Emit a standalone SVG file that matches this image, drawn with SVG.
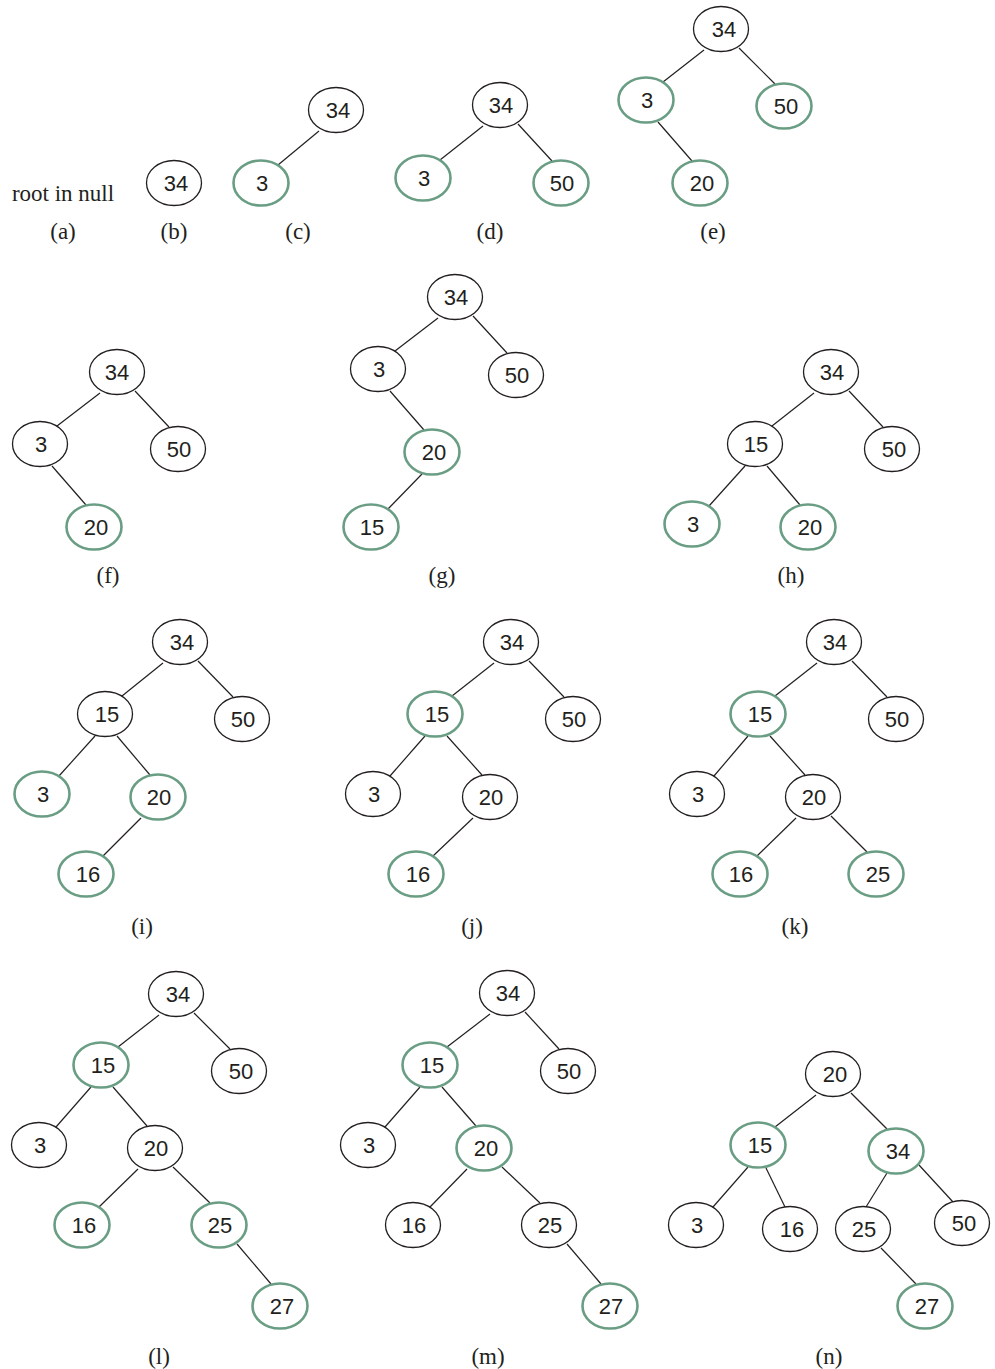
<svg xmlns="http://www.w3.org/2000/svg" width="995" height="1369" viewBox="0 0 995 1369">
<style>
.n ellipse{fill:#fff;stroke:#231f20;stroke-width:1.3}
.n.g ellipse{stroke:#6a9e84;stroke-width:2.6}
.n text{font-family:"Liberation Sans",Arial,sans-serif;font-size:22px;fill:#231f20;text-anchor:middle}
#edges line{stroke:#231f20;stroke-width:1.2}
.lb{font-family:"Liberation Serif","Times New Roman",serif;font-size:23px;fill:#231f20;text-anchor:middle}
</style>
<rect width="995" height="1369" fill="#fff"/>
<g id="edges">
<line x1="319" y1="131" x2="278" y2="165"/>
<line x1="483" y1="126" x2="440" y2="160"/><line x1="518" y1="124" x2="552" y2="161"/>
<line x1="704" y1="50" x2="663" y2="82"/><line x1="739" y1="48" x2="775" y2="84"/><line x1="658" y1="122" x2="692" y2="161"/>
<line x1="100" y1="393" x2="57" y2="426"/><line x1="135" y1="391" x2="169" y2="427"/><line x1="52" y1="466" x2="86" y2="505"/>
<line x1="438" y1="318" x2="395" y2="351"/><line x1="473" y1="316" x2="507" y2="353"/><line x1="390" y1="391" x2="424" y2="430"/><line x1="422" y1="474" x2="388" y2="509"/>
<line x1="814" y1="393" x2="772" y2="426"/><line x1="849" y1="391" x2="883" y2="427"/><line x1="745" y1="466" x2="709" y2="506"/><line x1="767" y1="466" x2="800" y2="505"/>
<line x1="163" y1="663" x2="122" y2="696"/><line x1="198" y1="661" x2="233" y2="697"/><line x1="95" y1="736" x2="59" y2="776"/><line x1="117" y1="736" x2="150" y2="775"/><line x1="141" y1="818" x2="103" y2="856"/>
<line x1="494" y1="663" x2="452" y2="696"/><line x1="529" y1="661" x2="564" y2="697"/><line x1="425" y1="736" x2="390" y2="776"/><line x1="447" y1="736" x2="482" y2="775"/><line x1="473" y1="818" x2="433" y2="856"/>
<line x1="817" y1="663" x2="775" y2="696"/><line x1="852" y1="661" x2="887" y2="697"/><line x1="748" y1="736" x2="714" y2="776"/><line x1="770" y1="736" x2="805" y2="775"/><line x1="796" y1="818" x2="757" y2="856"/><line x1="831" y1="816" x2="867" y2="852"/>
<line x1="159" y1="1015" x2="118" y2="1047"/><line x1="194" y1="1013" x2="230" y2="1049"/><line x1="91" y1="1087" x2="56" y2="1127"/><line x1="113" y1="1087" x2="147" y2="1126"/><line x1="138" y1="1169" x2="99" y2="1207"/><line x1="173" y1="1167" x2="210" y2="1203"/><line x1="237" y1="1244" x2="271" y2="1284"/>
<line x1="490" y1="1014" x2="447" y2="1047"/><line x1="525" y1="1012" x2="559" y2="1049"/><line x1="420" y1="1087" x2="385" y2="1127"/><line x1="442" y1="1087" x2="476" y2="1126"/><line x1="467" y1="1169" x2="430" y2="1207"/><line x1="502" y1="1167" x2="540" y2="1203"/><line x1="567" y1="1244" x2="601" y2="1284"/>
<line x1="816" y1="1095" x2="775" y2="1127"/><line x1="851" y1="1093" x2="887" y2="1129"/><line x1="748" y1="1167" x2="713" y2="1207"/><line x1="766" y1="1168" x2="785" y2="1207"/><line x1="887" y1="1173" x2="866" y2="1207"/><line x1="919" y1="1165" x2="953" y2="1202"/><line x1="881" y1="1248" x2="916" y2="1284"/>
</g>
<g id="labels">
<text class="lb" x="63" y="201">root in null</text>
<text class="lb" x="63" y="239">(a)</text>
<text class="lb" x="174" y="239">(b)</text>
<text class="lb" x="298" y="239">(c)</text>
<text class="lb" x="490" y="239">(d)</text>
<text class="lb" x="713" y="239">(e)</text>
<text class="lb" x="108" y="583">(f)</text>
<text class="lb" x="442" y="583">(g)</text>
<text class="lb" x="791" y="583">(h)</text>
<text class="lb" x="142" y="934">(i)</text>
<text class="lb" x="472" y="934">(j)</text>
<text class="lb" x="795" y="934">(k)</text>
<text class="lb" x="159" y="1364">(l)</text>
<text class="lb" x="488" y="1364">(m)</text>
<text class="lb" x="829" y="1364">(n)</text>
</g>
<g id="b34" class="n"><ellipse cx="174" cy="183" rx="27.5" ry="22.5"/><text x="176" y="191">34</text></g>
<g id="c34" class="n"><ellipse cx="336" cy="110" rx="27.5" ry="22.5"/><text x="338" y="118">34</text></g>
<g id="c3" class="n g"><ellipse cx="261" cy="183" rx="27.5" ry="22.5"/><text x="262" y="191">3</text></g>
<g id="d34" class="n"><ellipse cx="500" cy="105" rx="27.5" ry="22.5"/><text x="501" y="113">34</text></g>
<g id="d3" class="n g"><ellipse cx="423" cy="178" rx="27.5" ry="22.5"/><text x="424" y="186">3</text></g>
<g id="d50" class="n g"><ellipse cx="561" cy="183" rx="27.5" ry="22.5"/><text x="562" y="191">50</text></g>
<g id="e34" class="n"><ellipse cx="721" cy="29" rx="27.5" ry="22.5"/><text x="724" y="37">34</text></g>
<g id="e3" class="n g"><ellipse cx="646" cy="100" rx="27.5" ry="22.5"/><text x="647" y="108">3</text></g>
<g id="e50" class="n g"><ellipse cx="784" cy="106" rx="27.5" ry="22.5"/><text x="786" y="114">50</text></g>
<g id="e20" class="n g"><ellipse cx="700" cy="183" rx="27.5" ry="22.5"/><text x="702" y="191">20</text></g>
<g id="f34" class="n"><ellipse cx="117" cy="372" rx="27.5" ry="22.5"/><text x="117" y="380">34</text></g>
<g id="f3" class="n"><ellipse cx="40" cy="444" rx="27.5" ry="22.5"/><text x="41" y="452">3</text></g>
<g id="f50" class="n"><ellipse cx="178" cy="449" rx="27.5" ry="22.5"/><text x="179" y="457">50</text></g>
<g id="f20" class="n g"><ellipse cx="94" cy="527" rx="27.5" ry="22.5"/><text x="96" y="535">20</text></g>
<g id="g34" class="n"><ellipse cx="455" cy="297" rx="27.5" ry="22.5"/><text x="456" y="305">34</text></g>
<g id="g3" class="n"><ellipse cx="378" cy="369" rx="27.5" ry="22.5"/><text x="379" y="377">3</text></g>
<g id="g50" class="n"><ellipse cx="516" cy="375" rx="27.5" ry="22.5"/><text x="517" y="383">50</text></g>
<g id="g20" class="n g"><ellipse cx="432" cy="452" rx="27.5" ry="22.5"/><text x="434" y="460">20</text></g>
<g id="g15" class="n g"><ellipse cx="371" cy="527" rx="27.5" ry="22.5"/><text x="372" y="535">15</text></g>
<g id="h34" class="n"><ellipse cx="831" cy="372" rx="27.5" ry="22.5"/><text x="832" y="380">34</text></g>
<g id="h15" class="n"><ellipse cx="755" cy="444" rx="27.5" ry="22.5"/><text x="756" y="452">15</text></g>
<g id="h50" class="n"><ellipse cx="892" cy="449" rx="27.5" ry="22.5"/><text x="894" y="457">50</text></g>
<g id="h3" class="n g"><ellipse cx="692" cy="524" rx="27.5" ry="22.5"/><text x="693" y="532">3</text></g>
<g id="h20" class="n g"><ellipse cx="808" cy="527" rx="27.5" ry="22.5"/><text x="810" y="535">20</text></g>
<g id="i34" class="n"><ellipse cx="180" cy="642" rx="27.5" ry="22.5"/><text x="182" y="650">34</text></g>
<g id="i15" class="n"><ellipse cx="105" cy="714" rx="27.5" ry="22.5"/><text x="107" y="722">15</text></g>
<g id="i50" class="n"><ellipse cx="242" cy="719" rx="27.5" ry="22.5"/><text x="243" y="727">50</text></g>
<g id="i3" class="n g"><ellipse cx="42" cy="794" rx="27.5" ry="22.5"/><text x="43" y="802">3</text></g>
<g id="i20" class="n g"><ellipse cx="158" cy="797" rx="27.5" ry="22.5"/><text x="159" y="805">20</text></g>
<g id="i16" class="n g"><ellipse cx="86" cy="874" rx="27.5" ry="22.5"/><text x="88" y="882">16</text></g>
<g id="j34" class="n"><ellipse cx="511" cy="642" rx="27.5" ry="22.5"/><text x="512" y="650">34</text></g>
<g id="j15" class="n g"><ellipse cx="435" cy="714" rx="27.5" ry="22.5"/><text x="437" y="722">15</text></g>
<g id="j50" class="n"><ellipse cx="573" cy="719" rx="27.5" ry="22.5"/><text x="574" y="727">50</text></g>
<g id="j3" class="n"><ellipse cx="373" cy="794" rx="27.5" ry="22.5"/><text x="374" y="802">3</text></g>
<g id="j20" class="n"><ellipse cx="490" cy="797" rx="27.5" ry="22.5"/><text x="491" y="805">20</text></g>
<g id="j16" class="n g"><ellipse cx="416" cy="874" rx="27.5" ry="22.5"/><text x="418" y="882">16</text></g>
<g id="k34" class="n"><ellipse cx="834" cy="642" rx="27.5" ry="22.5"/><text x="835" y="650">34</text></g>
<g id="k15" class="n g"><ellipse cx="758" cy="714" rx="27.5" ry="22.5"/><text x="760" y="722">15</text></g>
<g id="k50" class="n"><ellipse cx="896" cy="719" rx="27.5" ry="22.5"/><text x="897" y="727">50</text></g>
<g id="k3" class="n"><ellipse cx="697" cy="794" rx="27.5" ry="22.5"/><text x="698" y="802">3</text></g>
<g id="k20" class="n"><ellipse cx="813" cy="797" rx="27.5" ry="22.5"/><text x="814" y="805">20</text></g>
<g id="k16" class="n g"><ellipse cx="740" cy="874" rx="27.5" ry="22.5"/><text x="741" y="882">16</text></g>
<g id="k25" class="n g"><ellipse cx="876" cy="874" rx="27.5" ry="22.5"/><text x="878" y="882">25</text></g>
<g id="l34" class="n"><ellipse cx="176" cy="994" rx="27.5" ry="22.5"/><text x="178" y="1002">34</text></g>
<g id="l15" class="n g"><ellipse cx="101" cy="1065" rx="27.5" ry="22.5"/><text x="103" y="1073">15</text></g>
<g id="l50" class="n"><ellipse cx="239" cy="1071" rx="27.5" ry="22.5"/><text x="241" y="1079">50</text></g>
<g id="l3" class="n"><ellipse cx="39" cy="1145" rx="27.5" ry="22.5"/><text x="40" y="1153">3</text></g>
<g id="l20" class="n"><ellipse cx="155" cy="1148" rx="27.5" ry="22.5"/><text x="156" y="1156">20</text></g>
<g id="l16" class="n g"><ellipse cx="82" cy="1225" rx="27.5" ry="22.5"/><text x="84" y="1233">16</text></g>
<g id="l25" class="n g"><ellipse cx="219" cy="1225" rx="27.5" ry="22.5"/><text x="220" y="1233">25</text></g>
<g id="l27" class="n g"><ellipse cx="280" cy="1306" rx="27.5" ry="22.5"/><text x="282" y="1314">27</text></g>
<g id="m34" class="n"><ellipse cx="507" cy="993" rx="27.5" ry="22.5"/><text x="508" y="1001">34</text></g>
<g id="m15" class="n g"><ellipse cx="430" cy="1065" rx="27.5" ry="22.5"/><text x="432" y="1073">15</text></g>
<g id="m50" class="n"><ellipse cx="568" cy="1071" rx="27.5" ry="22.5"/><text x="569" y="1079">50</text></g>
<g id="m3" class="n"><ellipse cx="368" cy="1145" rx="27.5" ry="22.5"/><text x="369" y="1153">3</text></g>
<g id="m20" class="n g"><ellipse cx="484" cy="1148" rx="27.5" ry="22.5"/><text x="486" y="1156">20</text></g>
<g id="m16" class="n"><ellipse cx="413" cy="1225" rx="27.5" ry="22.5"/><text x="414" y="1233">16</text></g>
<g id="m25" class="n"><ellipse cx="549" cy="1225" rx="27.5" ry="22.5"/><text x="550" y="1233">25</text></g>
<g id="m27" class="n g"><ellipse cx="610" cy="1306" rx="27.5" ry="22.5"/><text x="611" y="1314">27</text></g>
<g id="n20" class="n"><ellipse cx="833" cy="1074" rx="27.5" ry="22.5"/><text x="835" y="1082">20</text></g>
<g id="n15" class="n g"><ellipse cx="758" cy="1145" rx="27.5" ry="22.5"/><text x="760" y="1153">15</text></g>
<g id="n34" class="n g"><ellipse cx="896" cy="1151" rx="27.5" ry="22.5"/><text x="898" y="1159">34</text></g>
<g id="n3" class="n"><ellipse cx="696" cy="1225" rx="27.5" ry="22.5"/><text x="697" y="1233">3</text></g>
<g id="n16" class="n"><ellipse cx="790" cy="1229" rx="27.5" ry="22.5"/><text x="792" y="1237">16</text></g>
<g id="n25" class="n"><ellipse cx="863" cy="1229" rx="27.5" ry="22.5"/><text x="864" y="1237">25</text></g>
<g id="n50" class="n"><ellipse cx="962" cy="1223" rx="27.5" ry="22.5"/><text x="964" y="1231">50</text></g>
<g id="n27" class="n g"><ellipse cx="925" cy="1306" rx="27.5" ry="22.5"/><text x="927" y="1314">27</text></g>
</svg>
